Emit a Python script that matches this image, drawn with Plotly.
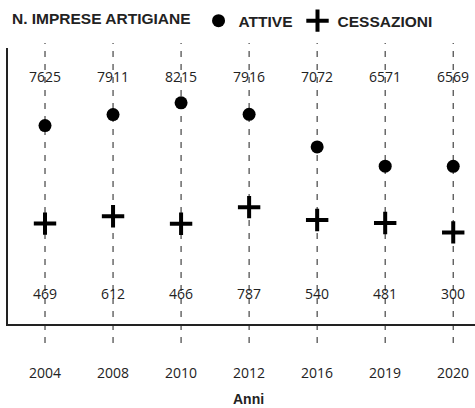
import plotly.graph_objects as go

# Dati: imprese artigiane attive e cessazioni per anno
anni = ["2004", "2008", "2010", "2012", "2016", "2019", "2020"]
attive = [7625, 7911, 8215, 7916, 7072, 6571, 6569]
cessazioni = [469, 612, 466, 787, 540, 481, 300]

num_font = dict(family="Open Sans", size=14, color="#222222")
bold_font = dict(family="Liberation Sans", size=15.5, color="#222222", weight="bold")

fig = go.Figure()

fig.add_trace(go.Scatter(
    x=anni, y=attive, mode="markers", name="ATTIVE",
    marker=dict(symbol="circle", size=13, color="black"),
    yaxis="y", cliponaxis=False,
))
fig.add_trace(go.Scatter(
    x=anni, y=cessazioni, mode="markers", name="CESSAZIONI",
    marker=dict(symbol="cross-thin", size=16, color="black",
                line=dict(width=4, color="black")),
    yaxis="y2", cliponaxis=False,
))

# Sugli assi categoriali shape e annotazioni usano l'indice della categoria
shapes = []
for i, a in enumerate(anni):
    shapes.append(dict(
        type="line", xref="x", yref="paper", x0=i, x1=i,
        y0=-0.069, y1=1.018, layer="below",
        line=dict(color="#444444", width=1.2, dash="6px,7px"),
    ))

annotations = []
for i, v in enumerate(attive):
    annotations.append(dict(x=i, y=0.895, xref="x", yref="paper", text=str(v),
                            showarrow=False, yanchor="middle", font=num_font))
for i, v in enumerate(cessazioni):
    annotations.append(dict(x=i, y=0.112, xref="x", yref="paper", text=str(v),
                            showarrow=False, yanchor="middle", font=num_font))
for i, a in enumerate(anni):
    annotations.append(dict(x=i, y=-0.174, xref="x", yref="paper", text=a,
                            showarrow=False, yanchor="middle", font=num_font))
annotations.append(dict(x=0.514, y=-0.272, xref="paper", yref="paper", text="Anni",
                        showarrow=False, yanchor="middle",
                        font=dict(family="Liberation Sans", size=14,
                                  color="#222222", weight="bold")))

fig.update_layout(
    width=475, height=408,
    margin=dict(l=8, r=0, t=48, b=84),
    paper_bgcolor="white", plot_bgcolor="white",
    showlegend=True,
    legend=dict(
        orientation="h", xref="container", yref="container",
        x=0.021, y=0.99, xanchor="left", yanchor="top",
        title=dict(text="N. IMPRESE ARTIGIANE", font=bold_font),
        font=bold_font, bgcolor="rgba(0,0,0,0)",
    ),
    xaxis=dict(type="category", range=[-0.544, 6.32], showline=True,
               linecolor="#222222", linewidth=2, showgrid=False, zeroline=False,
               showticklabels=False, ticks=""),
    yaxis=dict(range=[2480, 9636], showline=True, linecolor="#222222",
               linewidth=2, showgrid=False, zeroline=False,
               showticklabels=False, ticks=""),
    yaxis2=dict(range=[-1467, 3856], overlaying="y", visible=False),
    shapes=shapes,
    annotations=annotations,
)

fig.write_html("out.html")
